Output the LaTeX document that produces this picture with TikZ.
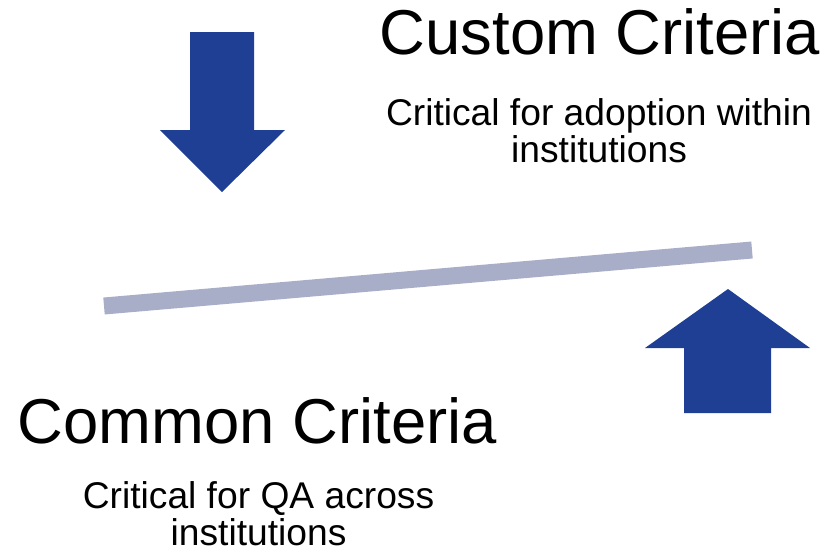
\documentclass[tikz,border=0pt]{standalone}
\usepackage{fontspec}
\setmainfont{Liberation Sans}
\definecolor{arrowblue}{HTML}{1F3F95}
\definecolor{barblue}{HTML}{A9AEC8}
\begin{document}
\begin{tikzpicture}[x=1pt,y=-1pt,
  bigarrow/.style={fill=arrowblue,draw=none},
  title/.style={anchor=base,inner sep=0pt,font=\fontsize{63.4}{63.4}\selectfont},
  subtitle/.style={anchor=base,inner sep=0pt,font=\fontsize{37.2}{37.2}\selectfont}]
\useasboundingbox (0,0) rectangle (839,550);
% down arrow
\fill[bigarrow] (190,32) -- (254,32) -- (254,130) -- (285,130) -- (222,192) -- (160,130) -- (190,130) -- cycle;
% up arrow
\fill[bigarrow] (684,413) -- (771,413) -- (771,348) -- (810,348) -- (728,289) -- (645,348) -- (684,348) -- cycle;
% balance bar
\coordinate (barL) at (104,306);
\coordinate (barR) at (752,250);
\draw[barblue,line width=17pt] (barL) -- (barR);
% texts
\node[title] (custom) at (600,54) {Custom Criteria};
\node[subtitle] (custom1) at (599,125) {Critical for adoption within};
\node[subtitle] (custom2) at (599,162) {institutions};
\node[title] (common) at (257.5,443) {Common Criteria};
\node[subtitle] (common1) at (258.5,508) {Critical for QA across};
\node[subtitle] (common2) at (258.5,545) {institutions};
\end{tikzpicture}
\end{document}
